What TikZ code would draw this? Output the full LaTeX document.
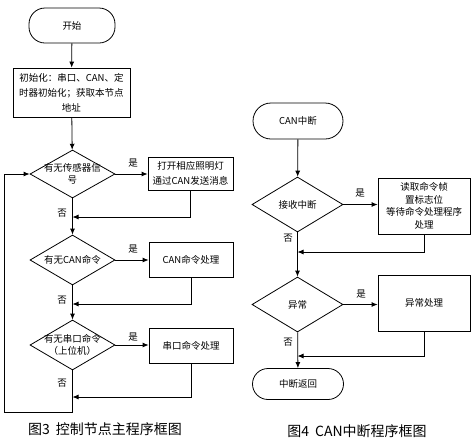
\documentclass[tikz,border=0pt]{standalone}
\usepackage{fontspec}
\newfontfamily\cjk{Noto Sans CJK SC}
\usetikzlibrary{arrows.meta,shapes.geometric}
\begin{document}
\begin{tikzpicture}[x=1pt,y=-1pt,
  font=\cjk\fontsize{9.5}{12.5}\selectfont,
  line width=0.8pt,
  arr/.style={-{Latex[length=6pt,width=5pt]}},
  term/.style={draw,rounded corners=16pt,inner sep=0pt},
  proc/.style={draw,inner sep=0pt,align=center},
  dia/.style={draw,diamond,inner sep=0pt},
  txt/.style={align=center,inner sep=0pt},
  lab/.style={inner sep=0pt},
  captxt/.style={inner sep=0pt,font=\cjk\fontsize{14}{16}\selectfont}]
\useasboundingbox (0,0) rectangle (472,440);
% ---------- left ----------
\node[term,minimum width=86pt,minimum height=35pt] (s) at (72,25.5) {开始};
\node[proc,minimum width=117pt,minimum height=49pt,font=\cjk\fontsize{9.5}{15}\selectfont] (init) at (71.5,92.5) {初始化：串口、CAN、定\\时器初始化；获取本节点\\地址};
\node[dia,minimum width=85pt,minimum height=48pt] (d1) at (72.5,174) {};
\node[txt] (d1t) at (d1) {有无传感器信\\号};
\node[proc,minimum width=85pt,minimum height=33pt,font=\cjk\fontsize{9.5}{15}\selectfont] (b1) at (190.5,173.5) {打开相应照明灯\\通过CAN发送消息};
\coordinate (m1) at (72.5,217);
\node[dia,minimum width=85pt,minimum height=50pt] (d2) at (72.5,260) {};
\node[txt] (d2t) at (d2) {有无CAN命令};
\node[proc,minimum width=84pt,minimum height=35pt] (b2) at (191,259.5) {CAN命令处理};
\coordinate (m2) at (72.5,304);
\node[dia,minimum width=85pt,minimum height=50pt] (d3) at (72.5,345) {};
\node[txt] (d3t) at (d3) {有无串口命令\\（上位机）};
\node[proc,minimum width=84pt,minimum height=35pt] (b3) at (191,345.5) {串口命令处理};
\coordinate (m3) at (72.5,397);
\coordinate (lb) at (72.5,412);
\coordinate (ll) at (4,412);

\draw[arr] (s) -- (init);
\draw[arr] (init) -- (d1);
\draw[arr] (d1) -- (d1 -| b1.west);
\draw[arr] (b1.south) |- (m1);
\draw[arr] (d1) -- (d2);
\draw[arr] (d2) -- (d2 -| b2.west);
\draw[arr] (b2.south) |- (m2);
\draw[arr] (d2) -- (d3);
\draw[arr] (d3) -- (d3 -| b3.west);
\draw[arr] (b3.south) |- (m3);
\draw[arr] (d3) -- (lb) -- (ll) |- (d1.west);

\node[lab] (y1) at (133,163) {是};
\node[lab] (y2) at (133,249) {是};
\node[lab] (y3) at (133,337) {是};
\node[lab] (n1) at (62,213) {否};
\node[lab] (n2) at (62,300) {否};
\node[lab] (n3) at (62,383) {否};
\node[captxt] (c3) at (105,429) {图3\hspace{6pt}控制节点主程序框图};

% ---------- right ----------
\node[term,minimum width=90pt,minimum height=36pt,rounded corners=18pt] (s2) at (298,121) {CAN中断};
\node[dia,minimum width=91pt,minimum height=55pt] (r1) at (297.5,204.5) {};
\node[txt] (r1t) at (r1) {接收中断};
\node[proc,minimum width=92pt,minimum height=56pt] (rb1) at (424,206) {读取命令帧\\置标志位\\等待命令处理程序\\处理};
\coordinate (rm1) at (297.5,252);
\node[dia,minimum width=91pt,minimum height=55pt] (r2) at (297.5,304.5) {};
\node[txt] (r2t) at (r2) {异常};
\node[proc,minimum width=92pt,minimum height=56pt] (rb2) at (424,303) {异常处理};
\coordinate (rm2) at (297.5,356);
\node[term,minimum width=91pt,minimum height=31pt,rounded corners=15.5pt] (e) at (298,384) {中断返回};

\draw[arr] (s2) -- (r1);
\draw[arr] (r1) -- (r1 -| rb1.west);
\draw[arr] (rb1.south) |- (rm1);
\draw[arr] (r1) -- (r2);
\draw[arr] (r2) -- (r2 -| rb2.west);
\draw[arr] (rb2.south) |- (rm2);
\draw[arr] (r2) -- (e);

\node[lab] (ry1) at (360,193) {是};
\node[lab] (ry2) at (361,294) {是};
\node[lab] (rn1) at (288,238) {否};
\node[lab] (rn2) at (288,342) {否};
\node[captxt] (c4) at (357,431) {图4\hspace{6pt}CAN中断程序框图};
\end{tikzpicture}
\end{document}
